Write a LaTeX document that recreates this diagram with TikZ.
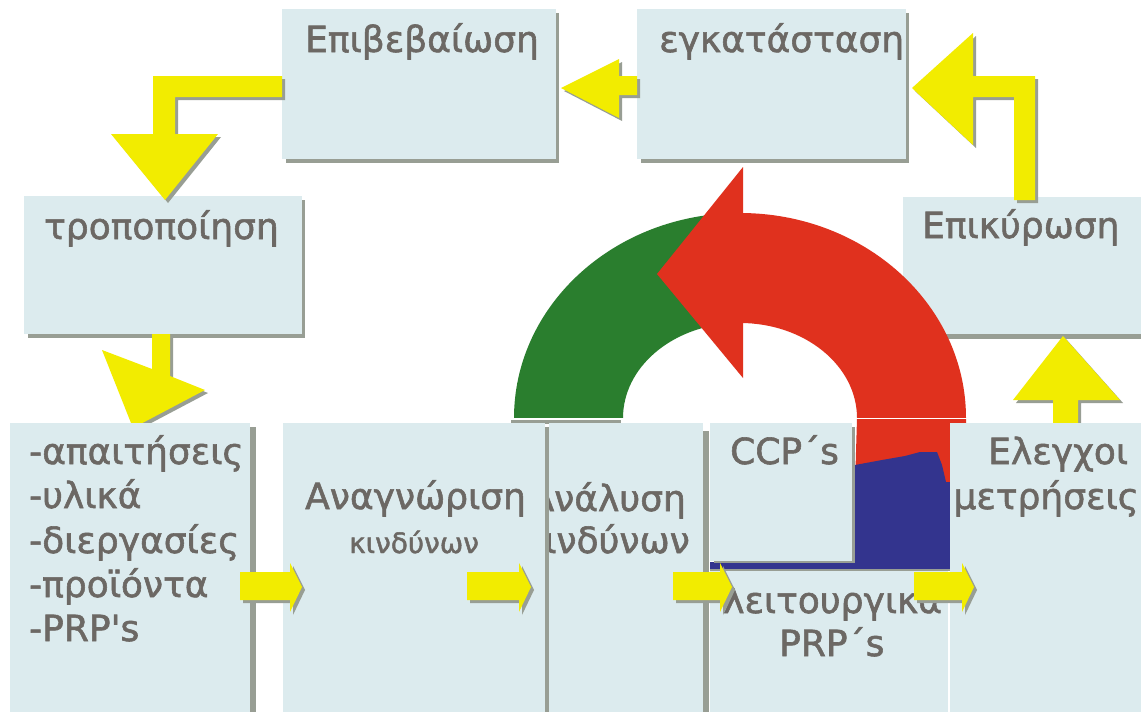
\documentclass[tikz,border=0pt]{standalone}
\usepackage{fontspec}
\newfontfamily\dv[FakeBold=1.6]{DejaVu Sans}
\usetikzlibrary{calc}
\definecolor{boxfill}{RGB}{220,235,238}
\definecolor{shadowc}{RGB}{152,158,148}
\definecolor{yel}{RGB}{242,236,0}
\definecolor{grn}{RGB}{42,126,46}
\definecolor{rd}{RGB}{224,49,30}
\definecolor{bl}{RGB}{51,52,142}
\definecolor{textc}{RGB}{108,104,100}
\newcommand\yarr[1]{\fill[shadowc, shift={(3,3)}] #1; \fill[yel] #1;}
\tikzset{
  boxc/.style={fill=boxfill},
  shad/.style={fill=shadowc},
  txt/.style={inner sep=0pt, anchor=base west, text=textc, font=\dv\fontsize{36}{43}\selectfont},
  txte/.style={txt, anchor=base east},
  txts/.style={txt, font=\dv\fontsize{28}{34}\selectfont},
}
\begin{document}
\begin{tikzpicture}[x=1pt,y=-1pt]
\useasboundingbox (0,0) rectangle (1141,712);
\clip (0,0) rectangle (1141,712);
\fill[white] (0,0) rectangle (1141,712);

% ---------- top boxes ----------
\fill[shad] (286,13) rectangle (559,163);
\fill[boxc] (282,9) rectangle (556,159);
\fill[shad] (641,13) rectangle (909,163);
\fill[boxc] (637,9) rectangle (906,159);
\fill[shad] (28,200) rectangle (305,338);
\fill[boxc] (24,196) rectangle (302,334);
\fill[shad] (943,201) rectangle (1141,339);
\fill[boxc] (903,197) rectangle (1141,334);

% ---------- yellow block arrows ----------
\yarr{(637,76) -- (619,76) -- (619,59) -- (561,88) -- (619,118) -- (619,95) -- (637,95) -- cycle}
\yarr{(282,76) -- (153,76) -- (153,134) -- (111,134) -- (165,200) -- (218,134) -- (175,134) -- (175,97) -- (282,97) -- cycle}
\yarr{(1014,200) -- (1014,97) -- (973,97) -- (973,145) -- (912,88) -- (973,33) -- (973,76) -- (1035,76) -- (1035,200) -- cycle}
\yarr{(152,334) -- (170,334) -- (170,376) -- (205,390) -- (133,428) -- (102,350) -- (152,369) -- cycle}
\yarr{(1053,425) -- (1053,400) -- (1013,400) -- (1063,336) -- (1120,400) -- (1078,400) -- (1078,425) -- cycle}

% ---------- big curved arrow ----------
\fill[grn] (514,418) arc[start angle=180, end angle=266, x radius=226, y radius=205]
  -- ($(740,418)+(266:117 and 95)$) arc[start angle=266, end angle=180, x radius=117, y radius=95] -- cycle;
\fill[shad] (511,420) rectangle (621,424);
\fill[rd] (740,213) arc[start angle=270, end angle=360, x radius=226, y radius=205]
  -- (966,486) -- (855,486) -- (857,418)
  arc[start angle=0, end angle=-90, x radius=117, y radius=95] -- cycle;
\fill[rd] (743,167) -- (657,274) -- (743,378) -- cycle;
\fill[bl] (710,562) -- (855,562) -- (855,465) -- (882,460) -- (905,456) -- (920,452) -- (937,452)
  -- (942,465) -- (946,482) -- (950,482) -- (950,569) -- (710,569) -- cycle;
\draw[white, line width=1.2pt] (505,418.5) -- (975,418.5);

% ---------- bottom boxes ----------
\fill[shad] (250,427) rectangle (256,712);
\fill[boxc] (10,423) rectangle (250,712);
% box C (behind B)
\fill[boxc] (549,423) rectangle (703,712);
\fill[shad] (703,431) rectangle (709,712);
\node[txte] (anal1) at (686,511) {Ανάλυση};
\node[txte] (anal2) at (690,553) {κινδύνων};
% box B
\fill[shad] (545,427) rectangle (549,712);
\fill[boxc] (283,423) rectangle (545,712);
% box D (CCP)
\fill[shad] (852,427) rectangle (855,563);
\fill[shad] (714,561) rectangle (855,563);
\fill[boxc] (710,423) rectangle (852,561);
% box E
\fill[shad] (710,569) rectangle (950,571);
\fill[boxc] (710,571) rectangle (948,712);
% box F
\fill[boxc] (950,423) rectangle (1141,712);

% ---------- texts ----------
\node[txt] (t1) at (305,52) {Επιβεβαίωση};
\node[txt] (t2) at (659,52) {εγκατάσταση};
\node[txt] (t3) at (44,239) {τροποποίηση};
\node[txt] (t4) at (922,238) {Επικύρωση};
\node[txt] (l1) at (29,464) {-απαιτήσεις};
\node[txt] (l2) at (29,508) {-υλικά};
\node[txt] (l3) at (29,553) {-διεργασίες};
\node[txt] (l4) at (29,597) {-προϊόντα};
\node[txt] (l5) at (29,641) {-PRP{\char"0027}s};
\node[txt] (ana1) at (305,509) {Αναγνώριση};
\node[txts] (ana2) at (349,553) {κινδύνων};
\node[txt] (ccp) at (730,464) {CCP´s};
\node[txt] (le1) at (723,613) {λειτουργικά};
\node[txt] (le2) at (779,656) {PRP´s};
\node[txt] (el1) at (988,464) {Ελεγχοι};
\node[txte] (el2) at (1139,509) {μετρήσεις};

% ---------- small right arrows ----------
\yarr{(240,572) -- (290,572) -- (290,563) -- (302,587) -- (290,612) -- (290,600) -- (240,600) -- cycle}
\yarr{(467,572) -- (519,572) -- (519,563) -- (531,587) -- (519,612) -- (519,600) -- (467,600) -- cycle}
\yarr{(673,572) -- (720,572) -- (720,563) -- (732,587) -- (720,612) -- (720,600) -- (673,600) -- cycle}
\yarr{(914,572) -- (962,572) -- (962,563) -- (974,587) -- (962,612) -- (962,600) -- (914,600) -- cycle}
\end{tikzpicture}
\end{document}
